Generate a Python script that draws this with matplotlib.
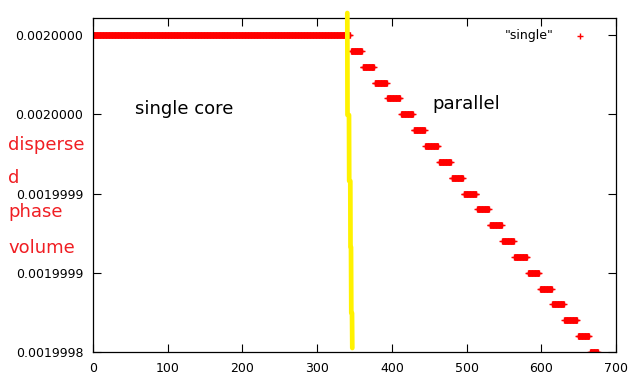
import numpy as np
import matplotlib
matplotlib.use("Agg")
import matplotlib.pyplot as plt
from matplotlib.lines import Line2D

# step levels of the "single" series: first x of each level, and its value
step_x = [0, 345, 361, 377, 394, 412, 429, 445, 463, 480, 496,
          514, 531, 548, 564, 582, 598, 615, 631, 649, 665]
step_y = [0.00200000, 0.00199999, 0.00199998, 0.00199997, 0.00199996,
          0.00199995, 0.00199994, 0.00199993, 0.00199992, 0.00199991,
          0.00199990, 0.00199989, 0.00199988, 0.00199987, 0.00199986,
          0.00199985, 0.00199984, 0.00199983, 0.00199982, 0.00199981,
          0.00199980]
x_last = 676

yticks = [0.0019998, 0.00199985, 0.0019999, 0.00199995, 0.0020000]
ytick_labels = ["0.0019998", "0.0019999", "0.0019999", "0.0020000", "0.0020000"]
xticks = [0, 100, 200, 300, 400, 500, 600, 700]

RED = "#ff0000"
W, H = 633, 386
fig = plt.figure(figsize=(W / 100, H / 100), dpi=100)
ax = fig.add_axes([93 / W, 1 - 352 / H, 523 / W, 334 / H])

# one sample per iteration, holding the level value
xs = np.arange(step_x[0], x_last + 1)
idx = np.searchsorted(step_x, xs, side="right") - 1
ys = np.array(step_y)[idx]
# the dense '+' points merge into a solid band in the original
ends = step_x[1:] + [x_last + 1]
ax.hlines(step_y, step_x, [e - 1 for e in ends], lw=4.8, color=RED)
ax.scatter(xs, ys, marker="+", s=5.0 ** 2, linewidths=1.0, color=RED,
           label='"single"')

ax.set_xlim(0, 700)
ax.set_ylim(0.0019998, 0.0020000108)
ax.set_xticks(xticks)
ax.set_yticks(yticks)
ax.set_yticklabels(ytick_labels)
ax.tick_params(direction="in", length=5.5, width=0.8, labelsize=9,
               top=True, right=True, pad=7, colors="black")
for s in ax.spines.values():
    s.set_linewidth(0.9)

leg = ax.legend(loc="upper right", bbox_to_anchor=((592 - 93) / 523, (352 - 29) / 334),
                frameon=False, markerfirst=False, borderaxespad=0, borderpad=0,
                handlelength=2.0, handletextpad=1.1, fontsize=9, scatterpoints=1)

# annotations
fig.text(135 / W, 1 - 114 / H, "single core", fontsize=13, va="baseline")
fig.text(432 / W, 1 - 109 / H, "parallel", fontsize=13, va="baseline")
for word, base in zip(["disperse", "d", "phase", "volume"], [150, 183, 217, 253]):
    fig.text(8 / W, 1 - base / H, word, fontsize=13, color="#f01e23", va="baseline")

# hand-drawn yellow divider
seg_px = [((347.3, 13), (347.5, 115)), ((349.0, 115), (349.2, 181)),
          ((350.3, 181), (350.5, 247)), ((351.0, 247), (351.3, 313)),
          ((352.0, 313), (352.3, 348))]
for (x0, y0), (x1, y1) in seg_px:
    fig.add_artist(Line2D([x0 / W, x1 / W], [1 - y0 / H, 1 - y1 / H],
                          transform=fig.transFigure, color="#fff200", lw=3.4,
                          solid_capstyle="round", zorder=10))

fig.savefig("out.png", dpi=100)
